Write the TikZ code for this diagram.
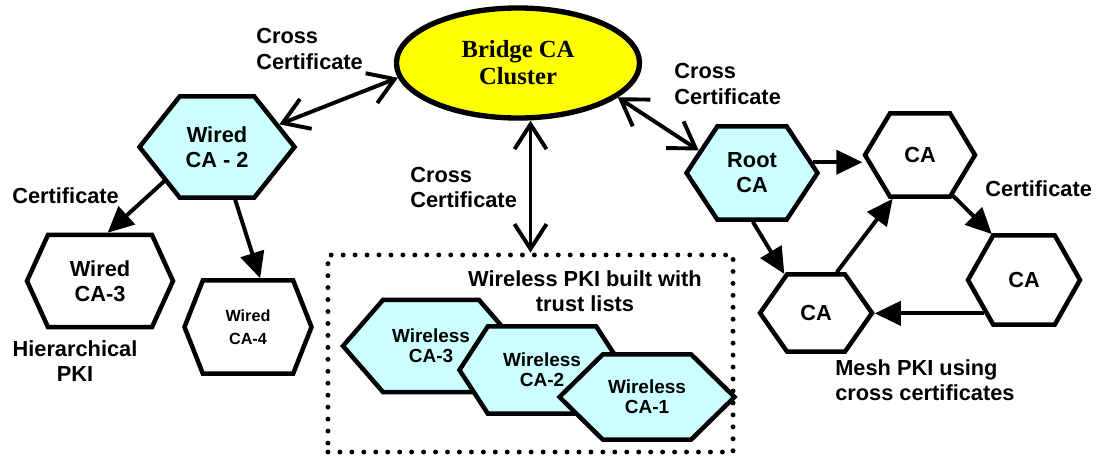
\documentclass[tikz,border=0pt]{standalone}
\usepackage{fontspec}
\setmainfont{Liberation Sans}
\newfontfamily\bridgefont{Liberation Serif}
\usetikzlibrary{shapes.geometric,shapes.symbols,arrows.meta}
\definecolor{hexcyan}{HTML}{CCFFFF}
\definecolor{bridgeyellow}{HTML}{FFFF00}
\tikzset{
  hex node/.style={signal,signal to=west and east,draw,line width=3.2pt,inner sep=0pt,
    align=center,font=\bfseries\fontsize{15.5}{17.8}\selectfont},
  label text/.style={inner sep=0pt,font=\bfseries\fontsize{15.5}{17.8}\selectfont},
  cross arrow/.style={line width=2.8pt,
    {Straight Barb[length=0.62cm,width=0.8cm]}-{Straight Barb[length=0.62cm,width=0.8cm]}},
  cert arrow/.style={line width=2.8pt,-{Triangle[length=0.65cm,width=0.6cm]}}
}
\begin{document}
\begin{tikzpicture}[x=0.025cm,y=-0.025cm]
  \useasboundingbox (0,0) rectangle (1097,462);

  % bridge and trust list box
  \node[ellipse,draw,line width=3.8pt,fill=bridgeyellow,minimum width=6.075cm,minimum height=2.75cm,
        inner sep=0pt,align=center,font=\bridgefont\bfseries\fontsize{17.5}{19.2}\selectfont]
        (bridge) at (518,63) {Bridge CA\\Cluster};
  \node[draw,line width=3.5pt,dash pattern=on 0pt off 8.5pt,line cap=round,
        minimum width=10.125cm,minimum height=4.925cm] (wbox) at (530.5,353.5) {};

  % hierarchical PKI
  \node[hex node,fill=hexcyan,signal pointer angle=103,minimum width=3.875cm,minimum height=2.525cm]
        (wired2) at (217,147) {Wired\\CA - 2};
  \node[hex node,fill=white,signal pointer angle=131,minimum width=3.65cm,minimum height=2.3cm]
        (wired3) at (100,281) {Wired\\CA-3};
  \node[hex node,fill=white,signal pointer angle=137,minimum width=3.175cm,minimum height=2.325cm,
        font=\bfseries\fontsize{11.5}{16.6}\selectfont]
        (wired4) at (248,327) {Wired\\CA-4};

  % wireless PKI
  \node[hex node,fill=hexcyan,signal pointer angle=98,minimum width=4.4cm,minimum height=2.3cm,
        font=\bfseries\fontsize{13.5}{14.5}\selectfont]
        (wless3) at (431,346) {Wireless\\CA-3};
  \node[hex node,fill=hexcyan,signal pointer angle=114,minimum width=4.125cm,minimum height=2.175cm,
        font=\bfseries\fontsize{13.5}{14.5}\selectfont]
        (wless2) at (542,370) {Wireless\\CA-2};
  \node[hex node,fill=hexcyan,signal pointer angle=89,minimum width=4.375cm,minimum height=2.125cm,
        font=\bfseries\fontsize{13.5}{14.5}\selectfont]
        (wless1) at (647,397) {Wireless\\CA-1};

  % mesh PKI
  \node[hex node,fill=hexcyan,signal pointer angle=113,minimum width=3.275cm,minimum height=2.325cm]
        (root) at (752,173) {Root\\CA};
  \node[hex node,fill=white,signal pointer angle=118,minimum width=2.75cm,minimum height=2.075cm]
        (meshA) at (920,155) {CA};
  \node[hex node,fill=white,signal pointer angle=121,minimum width=2.8cm,minimum height=2.225cm]
        (meshB) at (1024,280) {CA};
  \node[hex node,fill=white,signal pointer angle=110,minimum width=2.8cm,minimum height=1.925cm]
        (meshC) at (816,313) {CA};

  % labels
  \node[label text,anchor=west,align=left] (xcert1) at (256,49) {Cross\\Certificate};
  \node[label text,anchor=west,align=left] (xcert2) at (410,187.5) {Cross\\Certificate};
  \node[label text,anchor=west,align=left] (xcert3) at (674,84) {Cross\\Certificate};
  \node[label text,anchor=west] (cert1) at (12,196) {Certificate};
  \node[label text,anchor=west] (cert2) at (985,189) {Certificate};
  \node[label text,align=center] (hier) at (75,361) {Hierarchical\\PKI};
  \node[label text,align=center] (wlist) at (585,291) {Wireless PKI built with\\trust lists};
  \node[label text,anchor=west,align=left] (mesh) at (835,380) {Mesh PKI using\\cross certificates};

  % cross certificates
  \draw[cross arrow] (wired2.20) -- (bridge.187);
  \draw[cross arrow] (wbox.north) -- (wbox.north |- bridge.south);
  \draw[cross arrow] (bridge.-19) -- (root.157);

  % certificates
  \draw[cert arrow] (wired2.213) -- (wired3.81);
  \draw[cert arrow] (wired2.-71) -- (wired4.76);
  \draw[cert arrow] (root.10) -- (root.10 -| meshA.west);
  \draw[cert arrow] (root.-89) -- (meshC.129);
  \draw[cert arrow] (meshC.63) -- (meshA.238);
  \draw[cert arrow] (meshA.-51) -- (meshB.125);
  \draw[cert arrow] (meshB.220) -- (meshB.220 -| meshC.east);
\end{tikzpicture}
\end{document}
